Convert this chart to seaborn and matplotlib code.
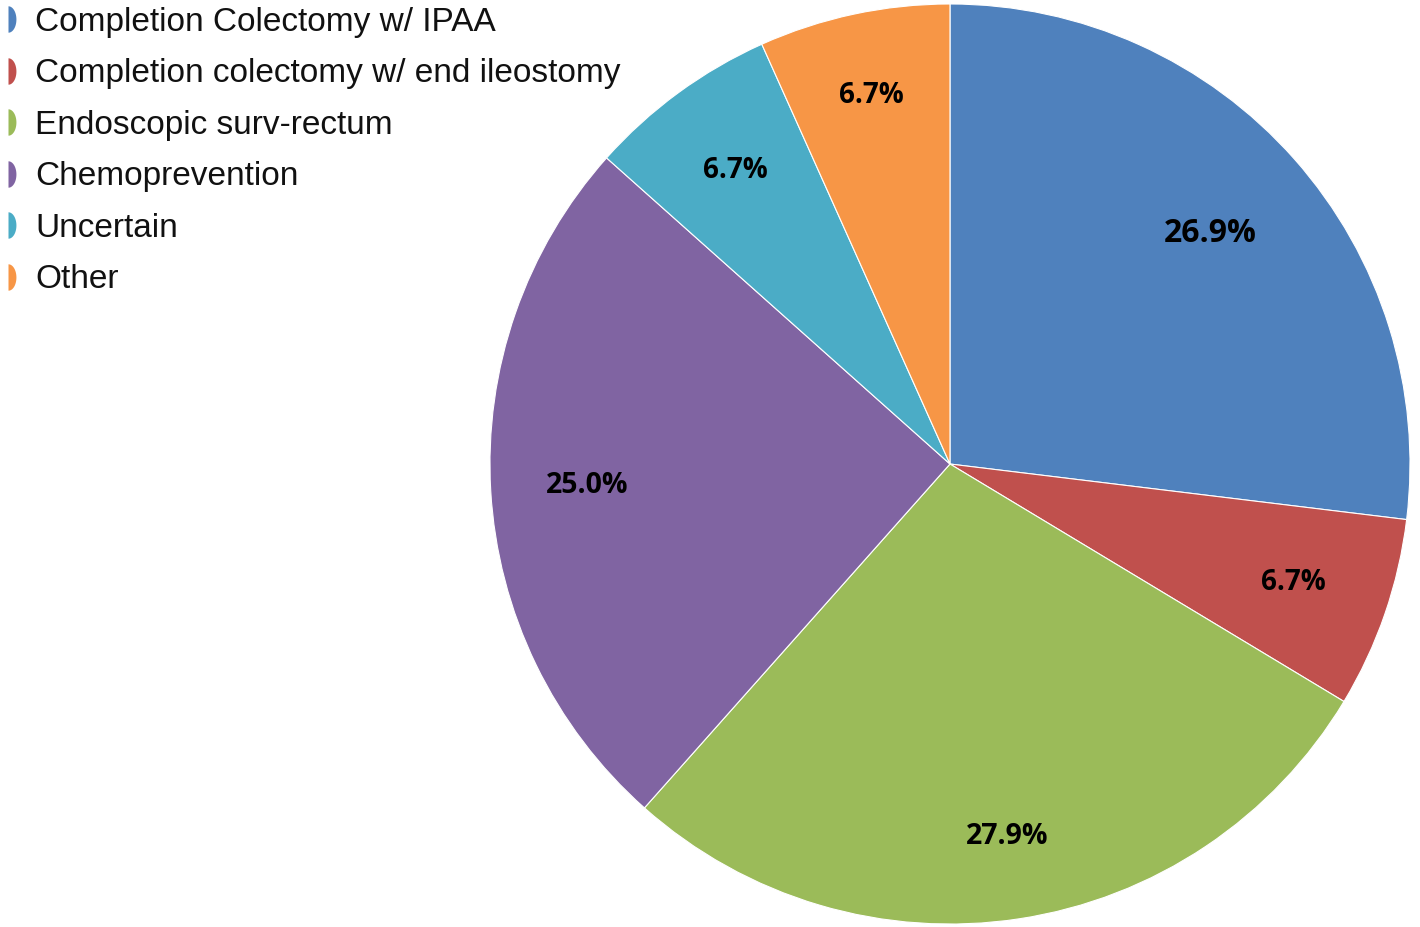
import matplotlib
matplotlib.use("Agg")
import matplotlib.pyplot as plt
from matplotlib.lines import Line2D
import numpy as np
import seaborn as sns

categories = [
    "Completion Colectomy w/ IPAA",
    "Completion colectomy w/ end ileostomy",
    "Endoscopic surv-rectum",
    "Chemoprevention",
    "Uncertain",
    "Other",
]
shares = [26.9, 6.7, 27.9, 25.0, 6.7, 6.7]
pct_labels = ["26.9%", "6.7%", "27.9%", "25.0%", "6.7%", "6.7%"]
colors = ["#4F81BD", "#C0504D", "#9BBB59", "#8064A2", "#4BACC6", "#F79646"]

sns.set_theme(style="white")
plt.rcParams["font.family"] = ["Liberation Sans", "DejaVu Sans"]
palette = sns.color_palette(colors)

fig = plt.figure(figsize=(14.2, 9.27), dpi=100)
ax = fig.add_axes([0.345, 0.0032, 0.648, 0.9925])

wedges, _ = ax.pie(
    shares,
    colors=palette,
    startangle=90,
    counterclock=False,
    radius=1.0,
    wedgeprops=dict(edgecolor="white", linewidth=0.8),
)
ax.set_xlim(-1, 1)
ax.set_ylim(-1, 1)
ax.set_aspect("equal")
ax.axis("off")

# percentage labels along each wedge's mid-angle
total = sum(shares)
start = 90.0
dists = [0.757, 0.79, 0.82, 0.79, 0.79, 0.82]
sizes = [23, 20, 20.5, 20.5, 20, 20]
for val, lab, d, fs in zip(shares, pct_labels, dists, sizes):
    span = 360.0 * val / total
    mid = np.deg2rad(start - span / 2)
    ax.text(d * np.cos(mid), d * np.sin(mid), lab, ha="center", va="center",
            fontsize=fs, fontweight="bold", family=["Open Sans", "DejaVu Sans"], color="black")
    start -= span

# legend icon: right half of a disc, like the office-style pie legend
t = np.linspace(-np.pi / 2, np.pi / 2, 40)
half_disc = [(0.0, -1.0)] + [(0.6 * np.cos(a), np.sin(a)) for a in t] + [(0.0, 1.0)]
handles = [
    Line2D([0], [0], marker=half_disc, linestyle="none", markersize=19,
           markerfacecolor=c, markeredgewidth=0)
    for c in palette
]
fig.legend(handles, categories, loc="upper left", bbox_to_anchor=(0.0, 1.0),
           frameon=False, fontsize=24, labelspacing=0.615, handletextpad=0.75,
           handlelength=0.1, borderaxespad=0.0, borderpad=0.2, labelcolor="#111111")

plt.savefig("out.png", dpi=100)
plt.close()
